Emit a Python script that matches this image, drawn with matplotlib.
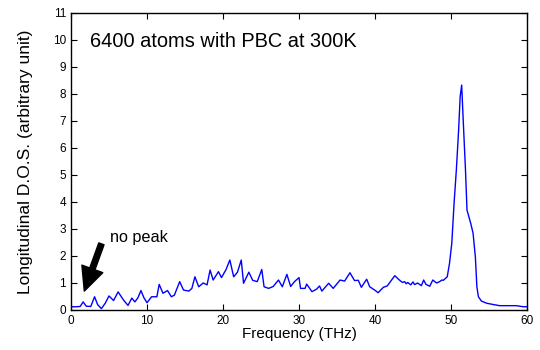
import matplotlib
matplotlib.use('Agg')
import matplotlib.pyplot as plt

plt.rcParams['font.family'] = ['Liberation Sans', 'DejaVu Sans']

# longitudinal density of states, frequency in THz
freq = [0.0, 0.6, 1.2, 1.6, 2.0, 2.6, 3.1, 3.5, 4.0, 4.5,
        5.0, 5.6, 6.2, 6.9, 7.5, 8.0, 8.4, 8.8, 9.2, 9.6,
        10.0, 10.6, 11.3, 11.6, 12.1, 12.7, 13.2, 13.6, 14.3, 14.8,
        15.5, 15.9, 16.3, 16.8, 17.4, 17.9, 18.3, 18.7, 19.4, 19.8,
        20.4, 20.9, 21.4, 21.9, 22.4, 22.7, 23.4, 23.9, 24.5, 25.1,
        25.4, 26.0, 26.6, 27.3, 27.8, 28.4, 28.9, 29.4, 30.0, 30.2,
        30.8, 31.0, 31.7, 32.3, 32.7, 33.0, 33.9, 34.5, 35.4, 36.0,
        36.7, 37.3, 37.8, 38.2, 38.9, 39.3, 40.0, 40.4, 41.1, 41.6,
        42.6, 43.2, 43.6, 43.9, 44.1, 44.3, 44.7, 45.0, 45.2, 45.6,
        46.1, 46.4, 46.7, 47.2, 47.6, 48.1, 48.5, 48.8, 49.0, 49.5,
        49.8, 50.1, 50.4, 50.7, 51.0, 51.2, 51.4, 51.6, 51.9, 52.1,
        52.6, 52.9, 53.2, 53.4, 53.6, 54.0, 54.7, 55.6, 56.4, 58.6,
        59.5, 60.0]
dos = [0.12, 0.12, 0.13, 0.3, 0.14, 0.13, 0.49, 0.2, 0.05, 0.25,
       0.52, 0.35, 0.67, 0.37, 0.17, 0.44, 0.3, 0.45, 0.72, 0.45,
       0.27, 0.49, 0.49, 0.95, 0.62, 0.72, 0.49, 0.55, 1.05, 0.74,
       0.7, 0.8, 1.23, 0.86, 1.0, 0.93, 1.48, 1.11, 1.42, 1.2,
       1.5, 1.85, 1.23, 1.4, 1.85, 0.99, 1.4, 1.1, 1.05, 1.5,
       0.86, 0.8, 0.87, 1.11, 0.86, 1.32, 0.87, 1.05, 1.2, 0.8,
       0.8, 0.96, 0.68, 0.77, 0.89, 0.7, 0.99, 0.8, 1.11, 1.07,
       1.38, 1.09, 1.1, 0.84, 1.14, 0.86, 0.73, 0.64, 0.84, 0.89,
       1.27, 1.11, 1.02, 1.05, 0.97, 1.02, 0.93, 1.04, 0.94, 1.0,
       0.9, 1.11, 0.95, 0.88, 1.11, 1.0, 1.05, 1.11, 1.1, 1.23,
       1.73, 2.47, 3.95, 5.19, 6.67, 7.9, 8.33, 7.04, 5.19, 3.7,
       3.2, 2.84, 1.97, 0.86, 0.49, 0.33, 0.25, 0.2, 0.16, 0.16,
       0.12, 0.12]

fig = plt.figure(figsize=(5.4, 3.5), dpi=100)
ax = fig.add_axes([0.1315, 0.1143, 0.8445, 0.8487])

ax.plot(freq, dos, color='#0000ff', linewidth=1.0)

ax.set_xlim(0, 60)
ax.set_ylim(0, 11)
ax.set_xticks(range(0, 61, 10))
ax.set_yticks(range(0, 12))
ax.tick_params(direction='in', top=True, right=True, labelsize=8.5,
               length=4, width=0.8)
for s in ax.spines.values():
    s.set_linewidth(1.0)

ax.set_xlabel('Frequency (THz)', fontsize=11, labelpad=0)
ax.set_ylabel('Longitudinal D.O.S. (arbitrary unit)', fontsize=12.5,
              labelpad=14)

ax.text(2.5, 9.94, '6400 atoms with PBC at 300K', fontsize=14.4,
        va='center', ha='left')
ax.text(5.1, 2.7, 'no peak', fontsize=11.7, va='center', ha='left')
ax.annotate('', xy=(1.75, 0.7), xytext=(4.0, 2.45),
            arrowprops=dict(facecolor='black', edgecolor='black',
                            width=4, headwidth=16, headlength=17))

fig.savefig('out.png', dpi=100)
